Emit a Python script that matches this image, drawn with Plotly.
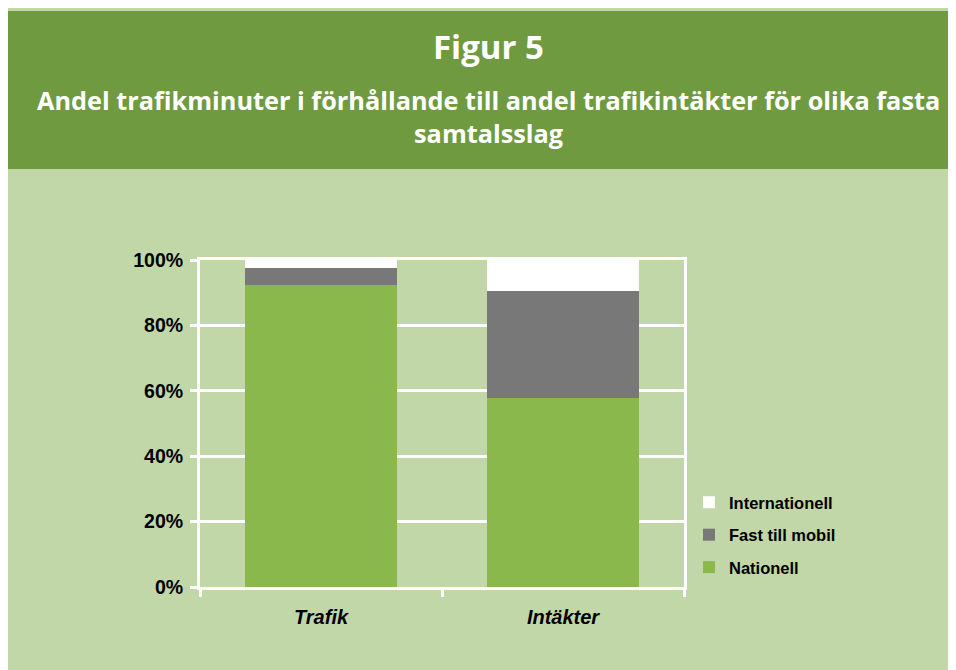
import plotly.graph_objects as go

categories = ["Trafik", "Intäkter"]
nationell = [92.4, 57.7]
fast_till_mobil = [5.3, 32.8]
internationell = [2.3, 9.5]
y_ticks = [0, 20, 40, 60, 80, 100]
y_tick_labels = ["0%", "20%", "40%", "60%", "80%", "100%"]

W, H = 956, 670
OFF = 8  # page body margin
# plot area in screen pixels
L, R, T, B = 200, 684, 260, 587

def px(x):
    return (x - L) / (R - L)

def py(y):
    return (B - y) / (B - T)

LIGHT = "#c2d7a8"
DARK = "#6f9a3f"

fig = go.Figure()
series = [
    ("Nationell", nationell, "#8ab84c", 3),
    ("Fast till mobil", fast_till_mobil, "#787878", 2),
    ("Internationell", internationell, "#ffffff", 1),
]
for name, vals, col, rank in series:
    fig.add_trace(go.Bar(
        x=categories, y=vals, name=name, marker_color=col,
        marker_line_width=0, width=0.63, legendgroup=name, legendrank=rank,
        hoverinfo="skip",
    ))

fig.update_layout(
    width=W, height=H,
    barmode="stack",
    paper_bgcolor=LIGHT,
    plot_bgcolor=LIGHT,
    margin=dict(l=L - OFF, r=W - (R - OFF), t=T - OFF, b=H - (B - OFF), autoexpand=False),
    showlegend=True,
    legend=dict(
        x=px(689), y=py(485), xanchor="left", yanchor="top",
        traceorder="grouped", tracegroupgap=8,
        font=dict(family="Liberation Sans, Arial", size=16.5, color="black", weight="bold"),
        bgcolor="rgba(0,0,0,0)", itemwidth=30,
    ),
    shapes=[
        dict(type="rect", xref="paper", yref="paper", layer="below",
             x0=px(OFF), x1=px(W + 40), y0=py(169), y1=py(11),
             fillcolor=DARK, line_width=0),
    ],
    annotations=[
        dict(xref="paper", yref="paper", x=px(488), y=py(47), text="Figur 5",
             showarrow=False, xanchor="center", yanchor="middle",
             font=dict(family="Open Sans", size=33, color="white", weight="bold")),
        dict(xref="paper", yref="paper", x=px(488), y=py(116),
             text="Andel trafikminuter i förhållande till andel trafikintäkter för olika fasta<br>samtalsslag",
             showarrow=False, xanchor="center", yanchor="middle", align="center",
             font=dict(family="Open Sans", size=25.3, color="white", weight="bold")),
    ],
)

fig.update_xaxes(
    type="category", range=[-0.5, 1.5],
    showline=True, linecolor="white", linewidth=3, mirror=True,
    ticks="outside", tickson="boundaries", ticklen=7, tickwidth=3, tickcolor="white",
    tickfont=dict(family="Liberation Sans, Arial", size=20, color="black", weight="bold", style="italic"),
    showgrid=False, ticklabelstandoff=10,
)
fig.update_yaxes(
    range=[0, 100], tickvals=y_ticks, ticktext=y_tick_labels,
    showline=True, linecolor="white", linewidth=3, mirror=True,
    ticks="outside", ticklen=7, tickwidth=3, tickcolor="white",
    showgrid=True, gridcolor="white", gridwidth=2.5,
    tickfont=dict(family="Liberation Sans, Arial", size=19.5, color="black", weight="bold"),
    zeroline=False, ticklabelstandoff=3,
)

fig.write_html("out.html")
